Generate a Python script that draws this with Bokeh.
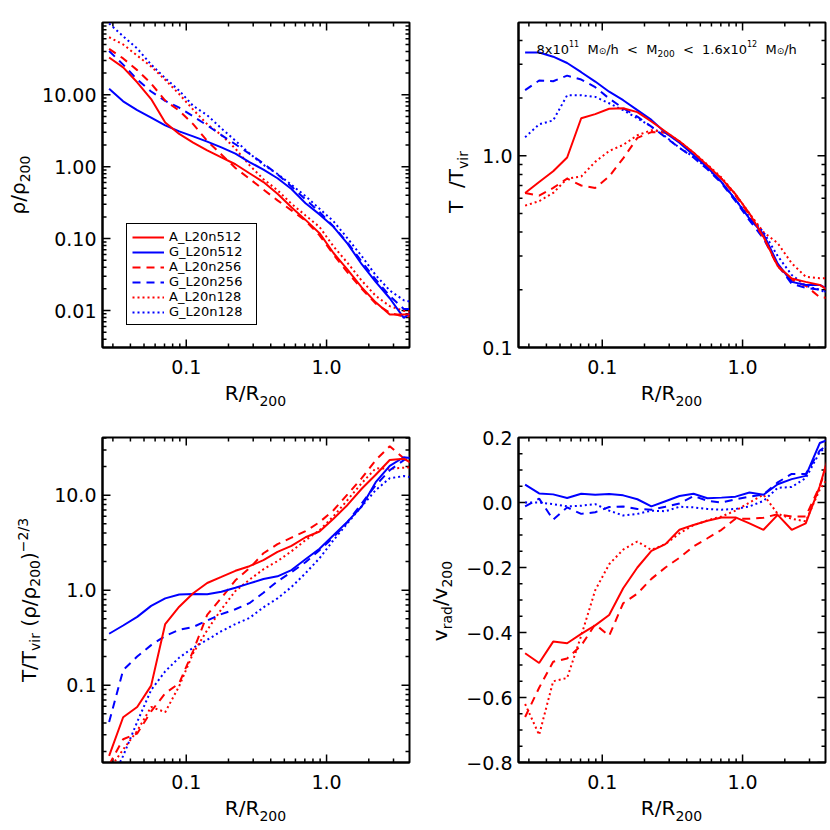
import math
from bokeh.plotting import figure
from bokeh.models import (Range1d, FixedTicker, PrintfTickFormatter, CustomJSTickFormatter,
                          Label, Legend, LegendItem, Div)
from bokeh.layouts import column, row
from bokeh.embed import file_html
from bokeh.resources import INLINE

# ---------------- data ----------------
R = [0.0282, 0.0355, 0.0447, 0.0562, 0.0708, 0.0891, 0.112, 0.141, 0.178, 0.224, 0.282,
     0.355, 0.447, 0.562, 0.708, 0.891, 1.12, 1.41, 1.78, 2.24, 2.82, 3.55, 4.47]

series_names = ["A_L20n512", "G_L20n512", "A_L20n256", "G_L20n256", "A_L20n128", "G_L20n128"]

# density rho/rho200
rho_A512 = [33, 24, 14.9, 8.7, 4.1, 2.85, 2.16, 1.68, 1.35, 1.08, 0.81, 0.61, 0.42, 0.272, 0.182, 0.119, 0.063, 0.037, 0.021, 0.013, 0.0088, 0.0088, 0.009]
rho_G512 = [12.1, 8.1, 6.1, 4.8, 3.75, 3.09, 2.64, 2.23, 1.85, 1.52, 1.16, 0.91, 0.69, 0.49, 0.31, 0.217, 0.146, 0.085, 0.044, 0.025, 0.0148, 0.0079, 0.011]
rho_A256 = [43.5, 32, 22, 14.3, 8.3, 6.0, 3.9, 2.28, 1.48, 0.96, 0.68, 0.48, 0.34, 0.247, 0.177, 0.111, 0.06, 0.034, 0.020, 0.0125, 0.0093, 0.0082, 0.0085]
rho_G256 = [40.5, 26.2, 16.3, 11.1, 8.2, 6.6, 5.0, 3.75, 2.75, 2.05, 1.51, 1.11, 0.78, 0.53, 0.35, 0.235, 0.148, 0.088, 0.048, 0.027, 0.016, 0.0105, 0.0105]
rho_A128 = [63, 50, 35, 24.7, 16.1, 10.2, 6.2, 3.9, 2.75, 1.78, 1.05, 0.67, 0.47, 0.305, 0.21, 0.145, 0.078, 0.046, 0.026, 0.016, 0.0115, 0.0099, 0.0095]
rho_G128 = [98, 65, 44, 26.3, 17, 11.4, 7.0, 5.2, 3.4, 2.3, 1.53, 1.06, 0.79, 0.56, 0.39, 0.26, 0.174, 0.101, 0.057, 0.031, 0.019, 0.0139, 0.0125]

# temperature T/Tvir
T_A512 = [0.64, 0.73, 0.83, 0.98, 1.57, 1.65, 1.76, 1.77, 1.69, 1.51, 1.34, 1.19, 1.04, 0.89, 0.76, 0.63, 0.50, 0.378, 0.266, 0.229, 0.22, 0.212, 0.19]
T_G512 = [3.46, 3.46, 3.29, 3.05, 2.73, 2.44, 2.16, 1.95, 1.73, 1.54, 1.32, 1.17, 1.01, 0.87, 0.73, 0.59, 0.47, 0.39, 0.274, 0.22, 0.212, 0.212, 0.195]
T_A256 = [0.64, 0.62, 0.68, 0.76, 0.70, 0.68, 0.78, 0.97, 1.24, 1.33, 1.32, 1.18, 1.03, 0.89, 0.76, 0.62, 0.49, 0.375, 0.265, 0.225, 0.21, 0.183, 0.18]
T_G256 = [2.2, 2.47, 2.45, 2.62, 2.5, 2.28, 1.99, 1.77, 1.60, 1.42, 1.25, 1.10, 0.98, 0.85, 0.72, 0.58, 0.46, 0.37, 0.27, 0.215, 0.205, 0.20, 0.19]
T_A128 = [0.55, 0.58, 0.64, 0.76, 0.78, 0.93, 1.06, 1.14, 1.28, 1.36, 1.33, 1.19, 1.04, 0.9, 0.77, 0.63, 0.5, 0.40, 0.35, 0.275, 0.234, 0.23, 0.23]
T_G128 = [1.25, 1.46, 1.53, 2.07, 2.07, 2.03, 1.88, 1.73, 1.57, 1.42, 1.26, 1.10, 0.99, 0.86, 0.73, 0.59, 0.48, 0.40, 0.30, 0.239, 0.21, 0.20, 0.185]

# T/Tvir (rho/rho200)^-2/3
K_A512 = [0.018, 0.046, 0.059, 0.099, 0.44, 0.67, 0.93, 1.19, 1.38, 1.6, 1.79, 2.07, 2.53, 2.93, 3.61, 4.15, 5.64, 7.9, 11.7, 16.4, 23.5, 24.2, 20]
K_G512 = [0.348, 0.425, 0.524, 0.684, 0.82, 0.90, 0.91, 0.905, 0.965, 1.06, 1.18, 1.31, 1.40, 1.63, 2.12, 2.73, 3.78, 5.27, 7.6, 13.7, 20.4, 25.1, 24]
K_A256 = [0.0145, 0.027, 0.031, 0.053, 0.082, 0.105, 0.23, 0.55, 0.83, 1.27, 1.70, 2.45, 3.05, 3.57, 4.18, 5.2, 6.95, 10.2, 15.1, 23.4, 32.8, 24.5, 22]
K_G256 = [0.041, 0.144, 0.20, 0.264, 0.33, 0.384, 0.41, 0.48, 0.56, 0.63, 0.73, 0.94, 1.24, 1.55, 1.97, 2.63, 3.61, 5.2, 8.2, 12.7, 18.3, 23.4, 26]
K_A128 = [0.013, 0.021, 0.033, 0.059, 0.052, 0.098, 0.217, 0.38, 0.63, 0.98, 1.29, 1.66, 2.02, 2.57, 3.36, 4.28, 6.0, 8.9, 13.4, 19.2, 19, 19.5, 20]
K_G128 = [0.009, 0.018, 0.041, 0.089, 0.14, 0.195, 0.248, 0.30, 0.37, 0.44, 0.51, 0.66, 0.82, 1.08, 1.51, 2.17, 3.36, 5.07, 7.66, 11.3, 15.1, 15.9, 15]

# radial velocity vrad/v200
V_A512 = [-0.464, -0.494, -0.428, -0.433, -0.404, -0.378, -0.346, -0.264, -0.2, -0.149, -0.128, -0.084, -0.069, -0.056, -0.046, -0.046, -0.064, -0.084, -0.038, -0.084, -0.064, 0.05, 0.2]
V_G512 = [0.055, 0.028, 0.025, 0.014, 0.027, 0.024, 0.026, 0.022, 0.01, -0.012, 0.004, 0.02, 0.027, 0.013, 0.015, 0.018, 0.031, 0.024, 0.056, 0.072, 0.082, 0.183, 0.2]
V_A256 = [-0.66, -0.57, -0.49, -0.48, -0.44, -0.375, -0.41, -0.31, -0.28, -0.235, -0.2, -0.17, -0.135, -0.11, -0.084, -0.05, -0.05, -0.047, -0.036, -0.043, -0.043, 0.05, 0.17]
V_G256 = [-0.012, 0.012, -0.053, -0.015, -0.035, -0.03, -0.014, -0.012, -0.02, -0.022, -0.013, -0.003, 0.02, 0.005, 0.0, 0.01, 0.018, 0.025, 0.062, 0.088, 0.088, 0.16, 0.19]
V_A128 = [-0.62, -0.715, -0.55, -0.54, -0.41, -0.27, -0.19, -0.145, -0.12, -0.146, -0.128, -0.095, -0.07, -0.055, -0.043, -0.025, 0.0, 0.024, -0.035, -0.05, -0.058, 0.04, 0.1]
V_G128 = [0.0, 0.0, -0.005, -0.012, -0.01, -0.005, -0.025, -0.04, -0.035, -0.025, -0.027, -0.013, -0.015, -0.02, -0.022, -0.02, -0.012, 0.005, 0.045, 0.048, 0.075, 0.155, 0.19]

x_major = [0.1, 1.0]
x_minor = [0.03, 0.04, 0.05, 0.06, 0.07, 0.08, 0.09, 0.2, 0.3, 0.4, 0.5, 0.6, 0.7, 0.8, 0.9, 2, 3, 4]
X_RANGE = (0.0253, 3.9)

# ---------------- styling ----------------
FONT = "DejaVu Sans"
RED = "#ff0000"
BLUE = "#0000ff"
DASH = {"512": "solid", "256": "8 6", "128": "2 3"}
FW, FH = 307, 325          # frame size of every panel
TOP_H = 415                # each panel block is 415 x 415
MAJ_LEN, MIN_LEN = 8, 4    # inward tick lengths, px
NAN = float("nan")

ADV = {'0': .636, '1': .636, '2': .636, '3': .636, '4': .636, '5': .636, '6': .636, '7': .636,
       '8': .636, '9': .636, ' ': .318, '.': .318, 'x': .592, 'M': .863, 'h': .634, '<': .838,
       '/': .337, '\u2299': .838}


def tw(s, size):
    return sum(ADV.get(c, .6) for c in s) * size


def place_inside(p, pieces, x0, y0):
    """composite text inside the frame (screen units from frame bottom-left)"""
    pos = x0
    for t, s, d in pieces:
        txt = t.strip(' ')
        lead = len(t) - len(t.lstrip(' '))
        pos += lead * ADV[' '] * s
        p.add_layout(Label(x=pos, y=y0 + d, x_units="screen", y_units="screen", text=txt,
                           text_font=FONT, text_font_size=f"{s}px", text_color="black",
                           text_align="left", text_baseline="alphabetic"))
        pos += tw(txt, s)


def sub(t, dy=5, size=14):
    return f'<span style="font-size:{size}px;position:relative;top:{dy}px;">{t}</span>'


TXT = f"white-space:nowrap;font-family:'{FONT}';font-size:20px;line-height:20px;color:#000;"


def xtitle_div(width, height, cx, html):
    inner = (f'<div style="position:relative;width:{width}px;height:{height}px;">'
             f'<div style="position:absolute;left:{cx}px;top:0px;transform:translateX(-50%);{TXT}">'
             f'{html}</div></div>')
    return Div(text=inner, width=width, height=height, margin=0, styles={"overflow": "visible"})


def ytitle_div(width, height, cx, cy, html):
    inner = (f'<div style="position:relative;width:{width}px;height:{height}px;">'
             f'<div style="position:absolute;left:{cx}px;top:{cy}px;'
             f'transform:translate(-50%,-50%) rotate(-90deg);{TXT}">'
             f'{html}</div></div>')
    return Div(text=inner, width=width, height=height, margin=0, styles={"overflow": "visible"})


def step(a, b, px, total_px, log):
    """move from a towards b by px pixels on an axis spanning total_px"""
    if log:
        la, lb = math.log10(a), math.log10(b)
        return 10 ** (la + (lb - la) * px / total_px)
    return a + (b - a) * px / total_px


def add_ticks(p, ylog, yrange, yticks, yminor):
    """inward tick marks on all four sides, as one NaN-separated polyline"""
    y0, y1 = yrange
    x0, x1 = X_RANGE
    tx, ty = [], []
    for ticks, ln in [(x_major, MAJ_LEN), (x_minor, MIN_LEN)]:
        for t in ticks:
            tx += [t, t, NAN, t, t, NAN]
            ty += [y0, step(y0, y1, ln, FH, ylog), NAN, y1, step(y1, y0, ln, FH, ylog), NAN]
    for ticks, ln in [(yticks, MAJ_LEN), (yminor, MIN_LEN)]:
        for t in ticks:
            if not (min(y0, y1) <= t <= max(y0, y1)):
                continue
            tx += [x0, step(x0, x1, ln, FW, True), NAN, x1, step(x1, x0, ln, FW, True), NAN]
            ty += [t, t, NAN, t, t, NAN]
    p.line(tx, ty, line_color="black", line_width=1.5)


def make_fig(width, height, bl, bt, bb, ylog, yrange, yticks, yminor, yfmt):
    p = figure(width=width, height=height, x_axis_type="log",
               y_axis_type="log" if ylog else "linear",
               x_range=Range1d(*X_RANGE), y_range=Range1d(*yrange),
               output_backend="svg", toolbar_location=None,
               min_border_left=bl, min_border_right=width - bl - FW,
               min_border_top=bt, min_border_bottom=bb)
    p.xgrid.visible = False
    p.ygrid.visible = False
    p.outline_line_color = "black"
    p.outline_line_width = 2
    p.background_fill_color = "white"
    p.border_fill_color = "white"
    bottom = p.xaxis[0]
    left = p.yaxis[0]
    bottom.ticker = FixedTicker(ticks=x_major, minor_ticks=[])
    bottom.formatter = PrintfTickFormatter(format="%.1f")
    left.ticker = FixedTicker(ticks=yticks, minor_ticks=[])
    left.formatter = yfmt
    for ax, so in [(bottom, 12), (left, 6)]:
        ax.major_tick_in = 0
        ax.major_tick_out = 0
        ax.minor_tick_in = 0
        ax.minor_tick_out = 0
        ax.axis_line_color = "black"
        ax.axis_line_width = 2
        ax.major_label_text_font = FONT
        ax.major_label_text_font_size = "19px"
        ax.major_label_text_color = "black"
        ax.major_label_standoff = so
    add_ticks(p, ylog, yrange, yticks, yminor)
    return p


def add_lines(p, data):
    rends = {}
    for res in ["128", "256", "512"]:
        for sim, col in [("G", BLUE), ("A", RED)]:
            name = f"{sim}_L20n{res}"
            rends[name] = p.line(R, data[name], line_color=col, line_width=2,
                                 line_dash=DASH[res])
    return rends


def minors(decades):
    return [round(m * 10.0 ** e, 6) for e in decades for m in range(2, 10)]


FIG_H = 22 + FH + 36       # 383
XDIV_H = TOP_H - FIG_H     # 32

# ---------------- top-left: density ----------------
p1 = make_fig(377, FIG_H, 64, 22, 36, True, (0.00306, 101), [0.01, 0.1, 1, 10],
              minors([-3, -2, -1, 0, 1]), PrintfTickFormatter(format="%.2f"))
r1 = add_lines(p1, dict(zip(series_names, [rho_A512, rho_G512, rho_A256, rho_G256, rho_A128, rho_G128])))
legend = Legend(items=[LegendItem(label=n, renderers=[r1[n]]) for n in series_names],
                location=(24, 22), label_text_font=FONT, label_text_font_size="13px",
                label_text_color="black", glyph_width=32, glyph_height=14, label_height=14,
                label_width=82, label_standoff=5, padding=5, spacing=0, margin=0,
                border_line_color="black", border_line_width=1, border_line_alpha=1,
                background_fill_color="white", background_fill_alpha=1)
p1.add_layout(legend)
tl = row(ytitle_div(38, TOP_H, 19, 184.5, "\u03c1/\u03c1" + sub("200", 5)),
         column(p1, xtitle_div(377, XDIV_H, 217.5, "R/R" + sub("200", 6))))

# ---------------- top-right: temperature ----------------
p2 = make_fig(355, FIG_H, 43, 22, 36, True, (0.1, 4.96), [0.1, 1.0],
              [0.2, 0.3, 0.4, 0.5, 0.6, 0.7, 0.8, 0.9, 2, 3, 4], PrintfTickFormatter(format="%.1f"))
add_lines(p2, dict(zip(series_names, [T_A512, T_G512, T_A256, T_G256, T_A128, T_G128])))
ann = [("8x10", 13, 0), ("11", 8, 6), ("  M", 13, 0), ("\u2299", 9, -1), ("/h", 13, 0),
       ("  <", 13, 0), ("  M", 13, 0), ("200", 9, -4), ("  <", 13, 0), ("  1.6x10", 13, 0),
       ("12", 8, 6), ("  M", 13, 0), ("\u2299", 9, -1), ("/h", 13, 0)]
place_inside(p2, ann, 18, FH - 27)
tr = row(ytitle_div(60, TOP_H, 42, 182, "T&#160;&#160;/T" + sub("vir", 5)),
         column(p2, xtitle_div(355, XDIV_H, 196.5, "R/R" + sub("200", 6))))

# ---------------- bottom-left: T/Tvir (rho/rho200)^-2/3 ----------------
p3 = make_fig(371, FIG_H, 58, 22, 36, True, (0.01535, 40.5), [0.1, 1, 10],
              minors([-2, -1, 0]) + [20, 30, 40], PrintfTickFormatter(format="%.1f"))
add_lines(p3, dict(zip(series_names, [K_A512, K_G512, K_A256, K_G256, K_A128, K_G128])))
bl_html = ("T/T" + sub("vir", 4) + " (\u03c1/\u03c1" + sub("200", 4) + ")"
           + sub("\u22122/3", -8))
bl = row(ytitle_div(44, TOP_H, 30, 185, bl_html),
         column(p3, xtitle_div(371, XDIV_H, 211.5, "R/R" + sub("200", 6))))

# ---------------- bottom-right: radial velocity ----------------
p4 = make_fig(371, FIG_H, 59, 22, 36, False, (-0.8, 0.2),
              [-0.8, -0.6, -0.4, -0.2, 0.0, 0.2],
              [-0.75, -0.7, -0.65, -0.55, -0.5, -0.45, -0.35, -0.3, -0.25, -0.15, -0.1, -0.05,
               0.05, 0.1, 0.15],
              CustomJSTickFormatter(code="return tick.toFixed(1).replace('-', '\\u2212')"))
add_lines(p4, dict(zip(series_names, [V_A512, V_G512, V_A256, V_G256, V_A128, V_G128])))
br = row(ytitle_div(44, TOP_H, 26, 186, "v" + sub("rad", 5) + "/v" + sub("200", 5)),
         column(p4, xtitle_div(371, XDIV_H, 212.5, "R/R" + sub("200", 6))))

layout = column(row(tl, tr), row(bl, br))
open("out.html", "w").write(file_html(layout, INLINE, title="profiles"))
